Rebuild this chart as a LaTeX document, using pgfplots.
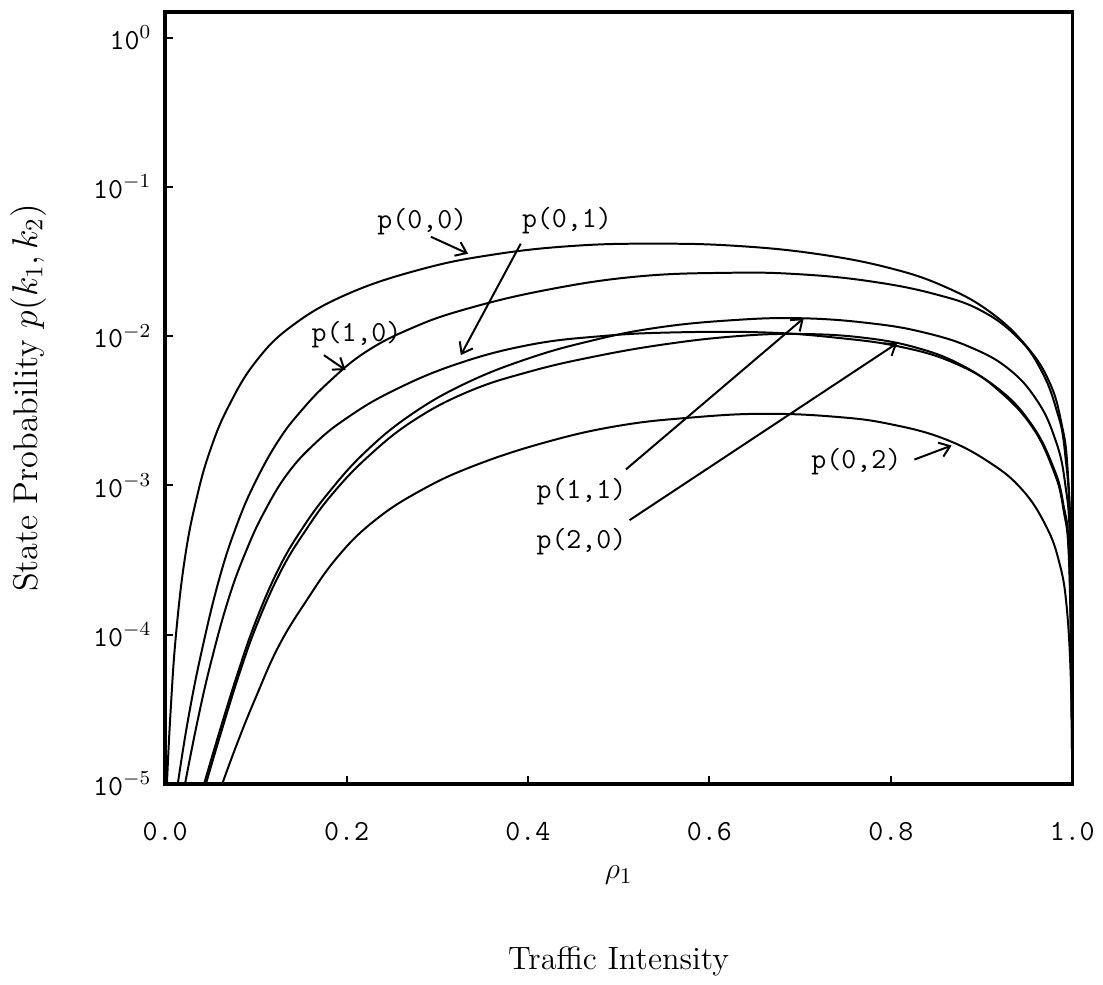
\documentclass[border=0pt]{standalone}
\usepackage{fontspec}
\usepackage{pgfplots}
\pgfplotsset{compat=1.18}
\usetikzlibrary{arrows.meta}

\newcommand{\lbl}{\fontsize{11.7}{14}\selectfont\ttfamily}

\begin{document}
\begin{tikzpicture}
\begin{axis}[
    scale only axis,
    width=364.8pt, height=310.4pt,
    ymode=log,
    xmin=0, xmax=1, ymin=1e-5, ymax=1.49,
    axis line style={line width=1.4pt},
    xtick={0,0.2,0.4,0.6,0.8,1.0},
    xticklabels={0.0,0.2,0.4,0.6,0.8,1.0},
    ytick={1e-5,1e-4,1e-3,1e-2,1e-1,1},
    yticklabels={\texttt{10}$^{-5}$,\texttt{10}$^{-4}$,\texttt{10}$^{-3}$,\texttt{10}$^{-2}$,\texttt{10}$^{-1}$,\texttt{10}$^{0}$},
    yminorticks=false,
    tick align=inside, xtick pos=bottom, ytick pos=left,
    major tick length=3pt,
    tick style={line width=0.8pt, black},
    ticklabel style={font=\lbl},
    xticklabel style={yshift=-12pt},
    yticklabel style={xshift=-2pt},
    xlabel={$\rho_1$},
    xlabel style={at={(axis description cs:0.5,-0.1186)}, anchor=center, font=\fontsize{13}{15}\selectfont},
    ylabel={State Probability $p(k_1,k_2)$},
    ylabel style={at={(axis description cs:-0.151,0.5)}, anchor=center, font=\fontsize{13.8}{16}\selectfont},
    clip mode=individual,
    no markers,
    cycle list={{black,solid}},
    every axis plot/.append style={line width=0.8pt, smooth, tension=0.7},
]
% p(0,0)
\addplot coordinates {(0.002,1e-5)(0.006,3.02e-5)(0.012,1e-4)(0.022,3.31e-4)(0.035,8.32e-4)(0.05,1.74e-3)(0.07,3.39e-3)(0.10,6.76e-3)(0.14,1.175e-2)(0.20,1.905e-2)(0.28,2.786e-2)(0.36,3.51e-2)(0.45,4.03e-2)(0.54,4.17e-2)(0.63,4.03e-2)(0.72,3.55e-2)(0.80,2.85e-2)(0.86,2.14e-2)(0.91,1.445e-2)(0.95,8.51e-3)(0.975,4.90e-3)(0.988,2.63e-3)(0.995,1.26e-3)(0.999,2.51e-4)(1.0,1e-5)};
% p(1,0)
\addplot coordinates {(0.014,1e-5)(0.025,2.63e-5)(0.04,7.59e-5)(0.06,2.40e-4)(0.08,5.62e-4)(0.10,1.07e-3)(0.125,2.00e-3)(0.15,3.16e-3)(0.18,4.90e-3)(0.22,7.76e-3)(0.27,1.12e-2)(0.33,1.51e-2)(0.42,2.04e-2)(0.52,2.51e-2)(0.62,2.66e-2)(0.70,2.60e-2)(0.78,2.32e-2)(0.85,1.905e-2)(0.90,1.48e-2)(0.94,9.77e-3)(0.965,6.03e-3)(0.982,3.31e-3)(0.992,1.66e-3)(0.998,3.98e-4)(1.0,1e-5)};
% p(0,1)
\addplot coordinates {(0.022,1e-5)(0.035,2.51e-5)(0.05,6.31e-5)(0.07,1.74e-4)(0.09,3.72e-4)(0.11,6.76e-4)(0.135,1.20e-3)(0.165,1.905e-3)(0.20,2.82e-3)(0.25,4.27e-3)(0.32,6.46e-3)(0.40,8.71e-3)(0.48,1.0e-2)(0.56,1.06e-2)(0.66,1.06e-2)(0.74,9.77e-3)(0.81,8.51e-3)(0.87,6.61e-3)(0.92,4.37e-3)(0.955,2.57e-3)(0.978,1.38e-3)(0.99,7.59e-4)(0.997,2.82e-4)(1.0,1e-5)};
% p(1,1)
\addplot coordinates {(0.043,1e-5)(0.06,2.24e-5)(0.08,5.50e-5)(0.10,1.23e-4)(0.125,2.75e-4)(0.15,5.01e-4)(0.18,8.91e-4)(0.22,1.66e-3)(0.27,2.95e-3)(0.33,4.79e-3)(0.40,7.08e-3)(0.47,9.33e-3)(0.54,1.135e-2)(0.62,1.274e-2)(0.70,1.32e-2)(0.78,1.216e-2)(0.84,1.047e-2)(0.89,8.32e-3)(0.93,6.03e-3)(0.96,3.80e-3)(0.98,2.14e-3)(0.992,1.047e-3)(0.998,3.16e-4)(1.0,1e-5)};
% p(2,0)
\addplot coordinates {(0.045,1e-5)(0.062,2.24e-5)(0.082,5.50e-5)(0.102,1.20e-4)(0.128,2.69e-4)(0.154,4.90e-4)(0.184,8.71e-4)(0.225,1.585e-3)(0.275,2.75e-3)(0.335,4.27e-3)(0.40,5.75e-3)(0.47,7.24e-3)(0.55,8.81e-3)(0.63,1.0e-2)(0.70,1.035e-2)(0.77,9.77e-3)(0.83,8.32e-3)(0.88,6.31e-3)(0.92,4.27e-3)(0.955,2.51e-3)(0.978,1.32e-3)(0.99,7.08e-4)(0.997,2.51e-4)(1.0,1e-5)};
% p(0,2)
\addplot coordinates {(0.063,1e-5)(0.08,1.905e-5)(0.10,3.80e-5)(0.125,8.32e-5)(0.155,1.66e-4)(0.19,3.31e-4)(0.23,5.75e-4)(0.28,9.12e-4)(0.34,1.35e-3)(0.42,1.95e-3)(0.50,2.51e-3)(0.58,2.85e-3)(0.66,3.02e-3)(0.74,2.88e-3)(0.80,2.57e-3)(0.86,2.04e-3)(0.91,1.41e-3)(0.945,9.33e-4)(0.97,5.50e-4)(0.985,3.16e-4)(0.994,1.51e-4)(0.999,3.98e-5)(1.0,1e-5)};

\node[font=\lbl] at (axis cs:0.2835,0.0584) {p(0,0)};
\node[font=\lbl] at (axis cs:0.443,0.0593) {p(0,1)};
\node[font=\lbl] at (axis cs:0.211,0.0102) {p(1,0)};
\node[font=\lbl] at (axis cs:0.459,9.12e-4) {p(1,1)};
\node[font=\lbl] at (axis cs:0.459,4.17e-4) {p(2,0)};
\node[font=\lbl] at (axis cs:0.762,1.445e-3) {p(0,2)};
\begin{scope}[line width=0.8pt, -{Straight Barb[length=4pt,width=6pt]}]
\draw (axis cs:0.293,0.0464) -- (axis cs:0.334,0.0357);
\draw (axis cs:0.392,0.0417) -- (axis cs:0.326,7.47e-3);
\draw (axis cs:0.175,7.47e-3) -- (axis cs:0.199,5.93e-3);
\draw (axis cs:0.508,1.28e-3) -- (axis cs:0.704,1.32e-2);
\draw (axis cs:0.512,5.85e-4) -- (axis cs:0.807,8.98e-3);
\draw (axis cs:0.826,1.49e-3) -- (axis cs:0.867,1.85e-3);
\end{scope}
\node[font=\fontsize{13}{15}\selectfont] at (axis description cs:0.5,-0.2307) {Traffic Intensity};
\coordinate (bbA) at (axis description cs:-0.182,1.0155);
\coordinate (bbB) at (axis description cs:1.0274,-0.2552);
\end{axis}
\path (bbA) rectangle (bbB);
\end{tikzpicture}
\end{document}
